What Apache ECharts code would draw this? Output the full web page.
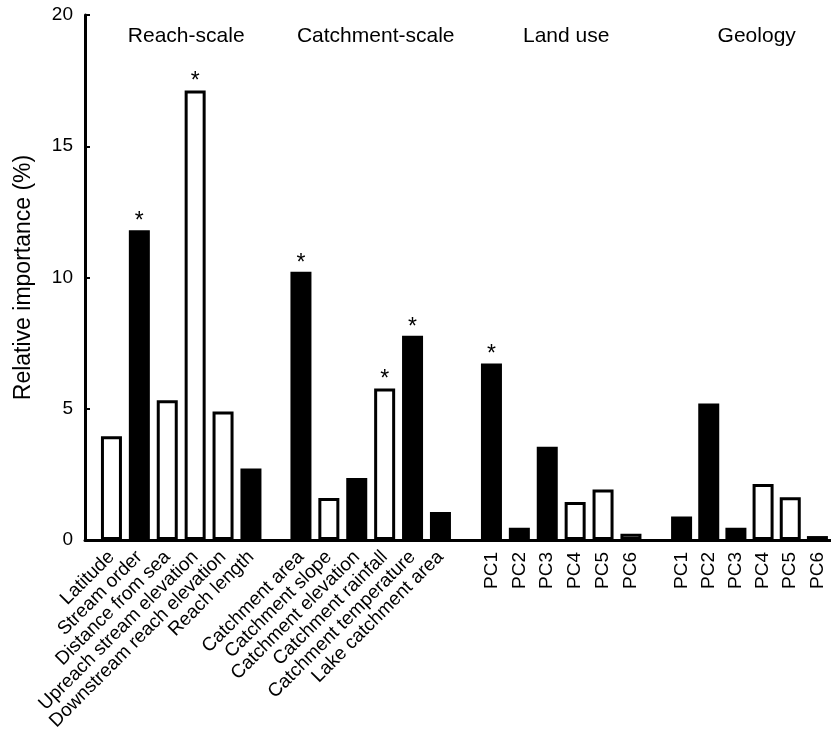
<!DOCTYPE html>
<html>
<head>
<meta charset="utf-8">
<script src="https://cdn.jsdelivr.net/npm/echarts@6/dist/echarts.min.js"></script>
<style>
  html, body { margin: 0; padding: 0; background: #fff; }
  #chart { width: 831px; height: 734px; }
</style>
</head>
<body>
<div id="chart"></div>
<script>
// Predictor groups: names, relative importance (%), filled/open bar, significance star
const groupTitles = ['Reach-scale', 'Catchment-scale', 'Land use', 'Geology'];

const reachNames = ['Latitude', 'Stream order', 'Distance from sea', 'Upreach stream elevation', 'Downstream reach elevation', 'Reach length'];
const reachValues = [3.95, 11.8, 5.32, 17.12, 4.9, 2.72];
const reachFilled = [false, true, false, false, false, true];
const reachStar = [false, true, false, true, false, false];

const catchNames = ['Catchment area', 'Catchment slope', 'Catchment elevation', 'Catchment rainfall', 'Catchment temperature', 'Lake catchment area'];
const catchValues = [10.22, 1.6, 2.36, 5.77, 7.78, 1.07];
const catchFilled = [true, false, true, false, true, true];
const catchStar = [true, false, false, true, true, false];

const landNames = ['PC1', 'PC2', 'PC3', 'PC4', 'PC5', 'PC6'];
const landValues = [6.72, 0.47, 3.55, 1.45, 1.92, 0.24];
const landFilled = [true, true, true, false, false, false];
const landStar = [true, false, false, false, false, false];

const geoNames = ['PC1', 'PC2', 'PC3', 'PC4', 'PC5', 'PC6'];
const geoValues = [0.9, 5.2, 0.47, 2.13, 1.63, 0.15];
const geoFilled = [true, true, true, false, false, true];
const geoStar = [false, false, false, false, false, false];

const yTicks = [0, 5, 10, 15, 20];

const groups = [
  { names: reachNames, values: reachValues, filled: reachFilled, star: reachStar, rotate: 45 },
  { names: catchNames, values: catchValues, filled: catchFilled, star: catchStar, rotate: 45 },
  { names: landNames, values: landValues, filled: landFilled, star: landStar, rotate: 90 },
  { names: geoNames, values: geoValues, filled: geoFilled, star: geoStar, rotate: 90 }
];

const FONT = '"Liberation Sans", Arial, Helvetica, sans-serif';
const TOP = 15, BOTTOM = 194;
const groupLefts = [97.5, 287, 477.5, 668];
const groupWidth = 167.4;
const yMin = yTicks[0], yMax = yTicks[yTicks.length - 1], yStep = yTicks[1] - yTicks[0];

const grids = [{ left: 85, right: -10, top: TOP, bottom: BOTTOM }];
const xAxes = [{
  gridIndex: 0, type: 'value', min: 0, max: 1,
  axisLine: { show: true, lineStyle: { color: '#000', width: 3 } },
  axisTick: { show: false }, axisLabel: { show: false }, splitLine: { show: false }
}];
const yAxes = [{
  gridIndex: 0, type: 'value', min: yMin, max: yMax, interval: yStep,
  name: 'Relative importance (%)', nameLocation: 'middle', nameGap: 50,
  nameTextStyle: { fontFamily: FONT, fontSize: 23, color: '#000' },
  axisLine: { show: true, lineStyle: { color: '#000', width: 3 } },
  axisTick: { show: true, inside: true, length: 5, lineStyle: { color: '#000', width: 2 } },
  axisLabel: { fontFamily: FONT, fontSize: 19, color: '#000', margin: 12 },
  splitLine: { show: false }
}];
const series = [];
const titles = [];

groups.forEach((g, i) => {
  const gi = i + 1;
  grids.push({ left: groupLefts[i], width: groupWidth, top: TOP, bottom: BOTTOM });
  xAxes.push({
    gridIndex: gi, type: 'category', data: g.names,
    axisLine: { show: false }, axisTick: { show: false }, splitLine: { show: false },
    axisLabel: {
      interval: 0, rotate: g.rotate, margin: g.rotate === 90 ? 12 : 14,
      fontFamily: FONT, fontSize: 19, color: '#000'
    }
  });
  yAxes.push({
    gridIndex: gi, type: 'value', min: yMin, max: yMax, show: false,
    splitLine: { show: false }
  });
  series.push({
    type: 'bar', xAxisIndex: gi, yAxisIndex: gi, barWidth: 21,
    silent: true, animation: false,
    data: g.values.map((v, k) => ({
      value: v,
      itemStyle: {
        color: g.filled[k] ? '#000' : '#fff',
        borderColor: '#000', borderWidth: 3
      },
      label: {
        show: g.star[k], position: 'top', distance: -3, formatter: '*',
        fontFamily: FONT, fontSize: 23, color: '#000'
      }
    }))
  });
  titles.push({
    text: groupTitles[i],
    left: groupLefts[i] + groupWidth / 2, top: 21, textAlign: 'center',
    textStyle: { fontFamily: FONT, fontSize: 21, fontWeight: 'normal', color: '#000' }
  });
});

const chart = echarts.init(document.getElementById('chart'), null, { renderer: 'canvas' });
chart.setOption({
  animation: false,
  backgroundColor: '#fff',
  title: titles,
  grid: grids,
  xAxis: xAxes,
  yAxis: yAxes,
  series: series
});
</script>
</body>
</html>
